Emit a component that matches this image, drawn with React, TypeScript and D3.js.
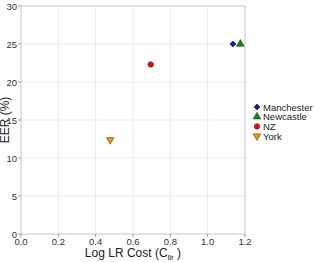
import * as d3 from "d3";

const groups = ["Manchester", "Newcastle", "NZ", "York"];
const cllr = [1.135, 1.175, 0.695, 0.478];
const eer = [25, 25, 22.3, 12.4];
const colors = ["#1a1aa6", "#1d7a1d", "#cc1414", "#e0951f"];
const strokes = ["#0d0d80", "#0d520d", "#a30d0d", "#7a4a0a"];
const shapes = [d3.symbolSquare, d3.symbolTriangle, d3.symbolCircle, d3.symbolTriangle];
const rotations = [45, 0, 0, 180];
const xTicks = [0, 0.2, 0.4, 0.6, 0.8, 1.0, 1.2];
const yTicks = [0, 5, 10, 15, 20, 25, 30];

const width = 315;
const height = 262;
const margin = { top: 6, right: 70, bottom: 28, left: 21 };

export default function App() {
  const x = d3.scaleLinear().domain([0, 1.2]).range([margin.left, width - margin.right]);
  const y = d3.scaleLinear().domain([0, 30]).range([height - margin.bottom, margin.top]);
  const sizes = [18, 26, 24, 26];
  const sym = (i: number) => d3.symbol().type(shapes[i]).size(sizes[i])() ?? "";
  const font = "Liberation Sans, Arial, sans-serif";

  return (
    <svg width={width} height={height} style={{ position: "absolute", left: 0, top: 0 }} fontFamily={font}>
      <rect width={width} height={height} fill="#fff" />
      {xTicks.map((t) => (
        <line key={`gx-${t}`} x1={x(t)} x2={x(t)} y1={y(30)} y2={y(0)} stroke="#ebebeb" strokeWidth={1} />
      ))}
      {yTicks.map((t) => (
        <line key={`gy-${t}`} x1={x(0)} x2={x(1.2)} y1={y(t)} y2={y(t)} stroke="#ebebeb" strokeWidth={1} />
      ))}
      <rect x={x(0)} y={y(30)} width={x(1.2) - x(0)} height={y(0) - y(30)} fill="none" stroke="#cfcfcf" strokeWidth={1} />
      {xTicks.map((t) => (
        <g key={`tx-${t}`}>
          <line x1={x(t)} x2={x(t)} y1={y(0)} y2={y(0) + 3} stroke="#999" />
          <text x={x(t)} y={y(0) + 11} textAnchor="middle" fontSize={9.5} fill="#333">{t.toFixed(1)}</text>
        </g>
      ))}
      {yTicks.map((t) => (
        <g key={`ty-${t}`}>
          <line x1={x(0) - 3} x2={x(0)} y1={y(t)} y2={y(t)} stroke="#999" />
          <text x={x(0) - 4} y={y(t) + 3.5} textAnchor="end" fontSize={9.5} fill="#333">{t}</text>
        </g>
      ))}
      {groups.map((g, i) => (
        <path
          key={g}
          d={sym(i)}
          transform={`translate(${x(cllr[i])}, ${y(eer[i])}) rotate(${rotations[i]})`}
          fill={colors[i]}
          stroke={strokes[i]}
          strokeWidth={0.6}
        />
      ))}
      <text x={(x(0) + x(1.2)) / 2} y={height - 5} textAnchor="middle" fontSize={12} fill="#222">
        Log LR Cost (C<tspan fontSize={8} dy={3}>llr</tspan><tspan dy={-3}> )</tspan>
      </text>
      <text transform={`translate(9, ${(y(0) + y(30)) / 2}) rotate(-90)`} textAnchor="middle" fontSize={12} fill="#222">EER (%)</text>
      {groups.map((g, i) => (
        <g key={`lg-${g}`} transform={`translate(257, ${107 + i * 9.7})`}>
          <path d={sym(i)} transform={`rotate(${rotations[i]})`} fill={colors[i]} stroke={strokes[i]} strokeWidth={0.6} />
          <text x={6} y={3.5} fontSize={9.5} fill="#222">{g}</text>
        </g>
      ))}
    </svg>
  );
}
